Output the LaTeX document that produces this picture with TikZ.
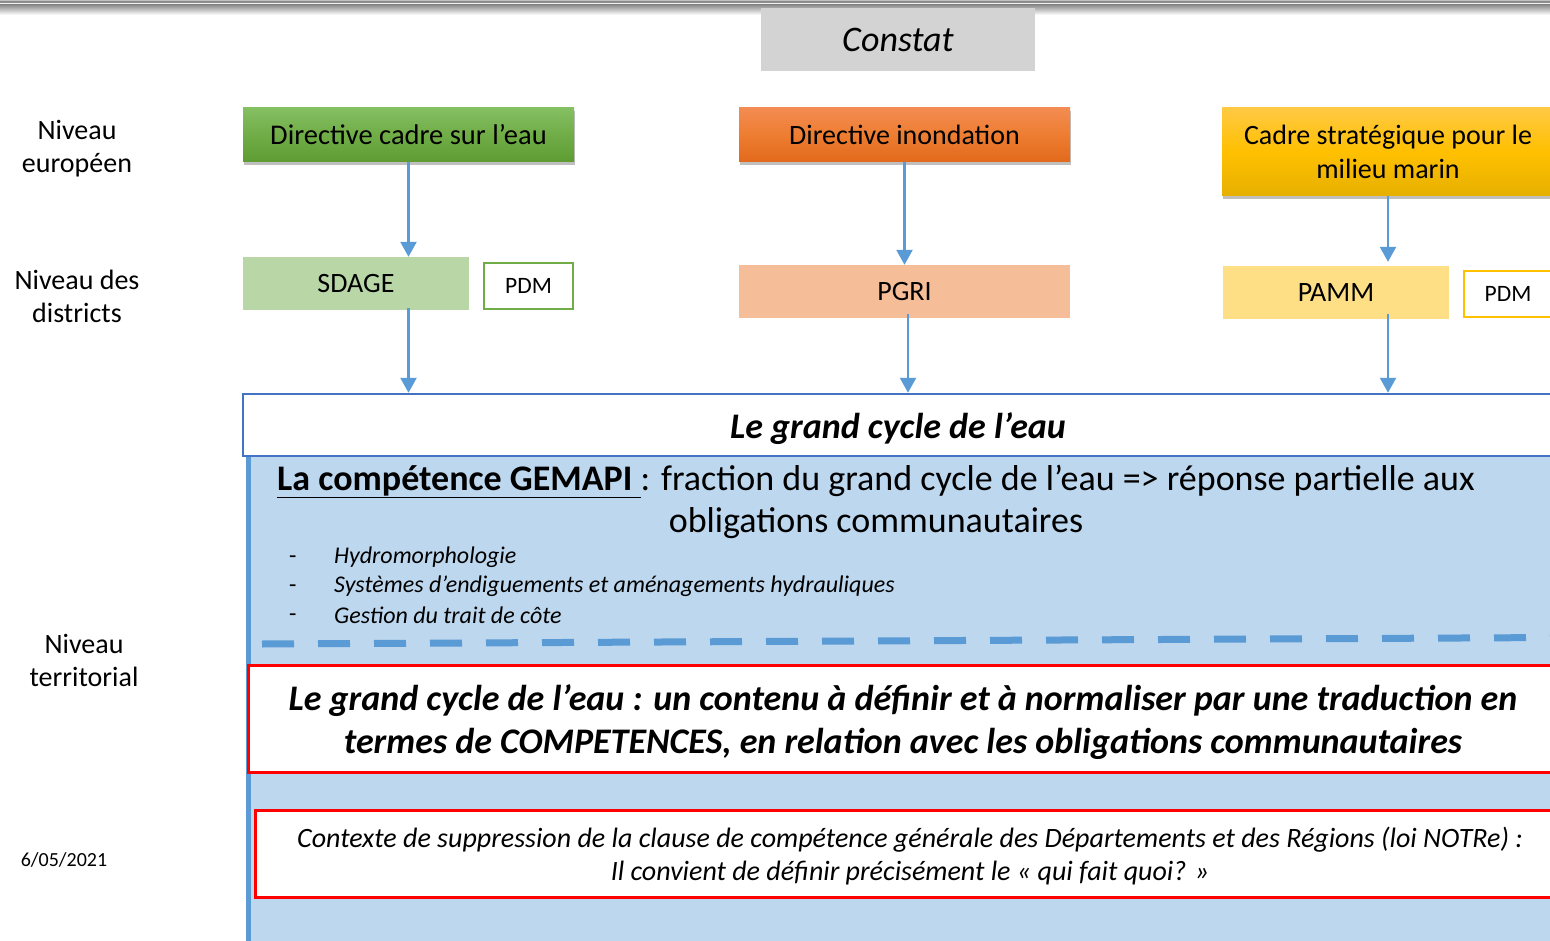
\documentclass[tikz,border=0pt]{standalone}
\usepackage{fontspec}
\setmainfont{Carlito}
\usetikzlibrary{arrows.meta,shadows}
\definecolor{arrblue}{HTML}{5B9BD5}
\definecolor{cyclblue}{HTML}{4472C4}
\definecolor{lightblue}{HTML}{BDD7EE}
\definecolor{gTop}{HTML}{84BF62}
\definecolor{gMid}{HTML}{70AD47}
\definecolor{gBot}{HTML}{5E9C33}
\definecolor{oTop}{HTML}{F38C52}
\definecolor{oMid}{HTML}{ED7D31}
\definecolor{oBot}{HTML}{E2691C}
\definecolor{yTop}{HTML}{FFC944}
\definecolor{yMid}{HTML}{FFC000}
\definecolor{yBot}{HTML}{E6B000}
\definecolor{sdagefill}{HTML}{B9D7A6}
\definecolor{pgrifill}{HTML}{F6BE98}
\definecolor{pammfill}{HTML}{FFDF85}
\definecolor{constatfill}{HTML}{D3D3D3}
\definecolor{pdmgreen}{HTML}{70AD47}
\definecolor{pdmyellow}{HTML}{FFC000}
\newcommand{\fsz}[2]{\fontsize{#1}{#2}\selectfont}
\begin{document}
\begin{tikzpicture}[x=1pt,y=-1pt,
  box/.style={rectangle, inner sep=0pt, align=center, text=black},
  topbox/.style={box, drop shadow={shadow xshift=1pt, shadow yshift=-3.5pt, opacity=0.25, fill=black}},
  lvl/.style={align=center, text=black, font=\fsz{28}{33}},
  arr/.style={draw=arrblue, line width=2.5pt, -{Triangle[width=16pt,length=15pt]}},
  redbox/.style={box, draw=red, line width=3pt, fill=white},
  bul/.style={anchor=west, inner sep=0pt, font=\fsz{24}{28}\itshape},
  dsh/.style={anchor=west, inner sep=0pt, font=\fsz{24}{28}}
]
\useasboundingbox (0,0) rectangle (1550,941);
\clip (0,0) rectangle (1550,941);
\fill[white] (0,0) rectangle (1550,941);
% header band
\fill[black!25] (0,0) rectangle (1550,1);
\fill[black!45] (0,1) rectangle (1550,3);
\fill[black!5] (0,3) rectangle (1550,4);
\fill[black!50] (0,4) rectangle (1550,6);
\shade[top color=black!40, bottom color=white] (0,6) rectangle (1550,15);

% level labels
\node[lvl] (eu) at (77,148.5) {Niveau\\européen};
\node[lvl] (dist) at (77,296) {Niveau des\\districts};
\node[lvl] (terr) at (84,660.5) {Niveau\\territorial};
\node[text=black, font=\fsz{20}{24}] (date) at (64,860) {6/05/2021};

% Constat
\node[box, fill=constatfill, minimum width=274pt, minimum height=63pt, font=\fsz{36}{40}\itshape] (constat) at (898,39.5) {Constat};

% European directives
\node[topbox, top color=gTop, bottom color=gBot, middle color=gMid, minimum width=331pt, minimum height=54pt, font=\fsz{28.5}{34}] (dce) at (408.5,135) {Directive cadre sur l’eau};
\node[topbox, top color=oTop, bottom color=oBot, middle color=oMid, minimum width=331pt, minimum height=54pt, font=\fsz{28}{34}] (di) at (904.5,135) {Directive inondation};
\node[topbox, top color=yTop, bottom color=yBot, middle color=yMid, minimum width=332pt, minimum height=88pt, font=\fsz{28}{34}] (csmm) at (1388,152) {Cadre stratégique pour le\\milieu marin};

% district plans
\node[box, fill=sdagefill, minimum width=226pt, minimum height=53pt, font=\fsz{28}{34}] (sdage) at (356,283.5) {SDAGE};
\node[box, fill=white, draw=pdmgreen, line width=2.5pt, minimum width=89pt, minimum height=46pt, font=\fsz{23.5}{26}] (pdm1) at (528.5,286) {PDM};
\node[box, fill=pgrifill, minimum width=331pt, minimum height=53pt, font=\fsz{28}{34}] (pgri) at (904.5,291.5) {PGRI};
\node[box, fill=pammfill, minimum width=226pt, minimum height=53pt, font=\fsz{28}{34}] (pamm) at (1336,292.5) {PAMM};
\node[box, fill=white, draw=pdmyellow, line width=2.5pt, minimum width=88pt, minimum height=46pt, font=\fsz{23.5}{26}] (pdm2) at (1508,294) {PDM};

% territorial region
\fill[lightblue] (246,456) rectangle (1560,941);
\draw[arrblue, line width=5pt] (248.5,456) -- (248.5,945);
\node[box, fill=white, draw=cyclblue, line width=2.5pt, minimum width=1310pt, minimum height=62pt] (cycle) at (898,425) {};
\node[box, font=\fsz{36}{40}\bfseries\itshape] (cyclet) at (898,429) {Le grand cycle de l’eau};

\node[box, font=\fsz{36}{42}] (gemapi) at (876,502) {\underline{\textbf{La compétence GEMAPI }}: fraction du grand cycle de l’eau => réponse partielle aux\\obligations communautaires};

\node[dsh] (d1) at (289,560) {-};
\node[bul] (b1) at (334,557) {Hydromorphologie};
\node[dsh] (d2) at (289,589) {-};
\node[bul] (b2) at (334,586) {Systèmes d’endiguements et aménagements hydrauliques};
\node[dsh] (d3) at (289,618) {-};
\node[bul] (b3) at (334,615) {Gestion du trait de côte};

\coordinate (dl) at (262,644);
\coordinate (dr) at (1560,637.5);
\draw[arrblue, line width=7pt, dash pattern=on 32pt off 24pt] (dl) -- (dr);

\node[redbox, minimum width=1310pt, minimum height=107pt] (red1) at (903,718.5) {};
\node[box, font=\fsz{36}{43}\bfseries\itshape] (red1t) at (903,722.5) {Le grand cycle de l’eau : un contenu à définir et à normaliser par une traduction en\\termes de COMPETENCES, en relation avec les obligations communautaires};
\node[redbox, minimum width=1310pt, minimum height=87pt] (red2) at (910,853.5) {};
\node[box, font=\fsz{28}{33}\itshape] (red2t) at (910,856.5) {Contexte de suppression de la clause de compétence générale des Départements et des Régions (loi NOTRe) :\\Il convient de définir précisément le « qui fait quoi? »};

% arrows
\draw[arr] (dce.south) -- (dce.south |- sdage.north);
\draw[arr] (di.south) -- (di.south |- pgri.north);
\draw[arr, shorten >=4pt] (csmm.south) -- (csmm.south |- pamm.north);
\draw[arr] ([yshift=2pt]sdage.south -| dce.south) -- (cycle.north -| dce.south);
\draw[arr] ([xshift=3.5pt,yshift=4pt]pgri.south) -- ([xshift=3.5pt]cycle.north -| pgri.south);
\draw[arr] ([yshift=5pt]pamm.south -| csmm.south) -- (cycle.north -| csmm.south);
\end{tikzpicture}
\end{document}
